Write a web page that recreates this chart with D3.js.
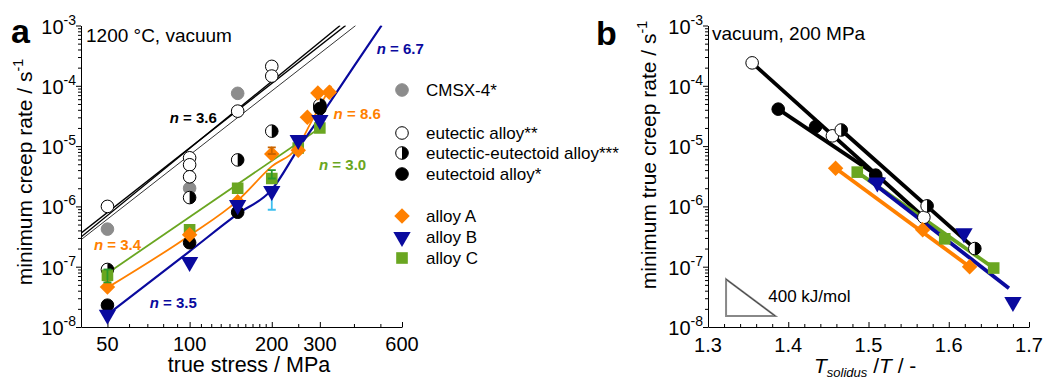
<!DOCTYPE html>
<html lang="en">
<head>
<meta charset="UTF-8" />
<title>Minimum creep rate</title>
<script src="https://d3js.org/d3.v7.min.js"></script>
<style>
  body { margin: 0; background: #fff; font-family: Arial, "Liberation Sans", sans-serif; }
  svg { display: block; }
  .axis path, .axis line { stroke: #000; stroke-width: 1px; }
</style>
</head>
<body>
<svg id="chart" width="1045" height="383"></svg>
<script>
// ---------- panel a: stress (MPa) vs minimum creep rate (1/s), 1200 °C
const cmsxStress = [50, 100, 150];
const cmsxRate   = [4.2e-7, 2.0e-6, 7.5e-5];
const eutStress  = [50, 100, 100, 100, 150, 200, 200, 300];
const eutRate    = [1.0e-6, 6.4e-6, 4.9e-6, 3.1e-6, 3.8e-5, 2.1e-4, 1.45e-4, 4.6e-5];
const halfStress = [50, 100, 150, 200, 300];
const halfRate   = [9.0e-8, 1.4e-6, 5.9e-6, 1.77e-5, 4.8e-5];
const eudStress  = [50, 100, 150, 300];
const eudRate    = [2.3e-8, 2.5e-7, 8.0e-7, 4.2e-5];
const aStress    = [50, 100, 150, 200, 250, 270, 295, 325];
const aRate      = [4.6e-8, 3.4e-7, 1.2e-6, 7.4e-6, 8.5e-6, 3.0e-5, 7.6e-5, 7.8e-5];
const bStress    = [50, 100, 150, 200, 250, 300];
const bRate      = [1.6e-8, 1.2e-7, 1.05e-6, 1.8e-6, 1.26e-5, 2.7e-5];
const cStress    = [50, 100, 150, 200, 250, 300];
const cRate      = [7.2e-8, 4.1e-7, 2.0e-6, 2.9e-6, 9.3e-6, 2.0e-5];

// error bars: [stress, low, high]
const errA = [[200, 7.4e-6, 9.5e-6]];
const errB = [[200, 8.8e-7, 1.8e-6]];
const errC = [[200, 2.9e-6, 4.0e-6], [50, 5.5e-8, 9.0e-8]];

// fit lines
const fitBlack = [[[40, 3.6e-7], [373, 1e-3]], [[40, 3.1e-7], [356, 1e-3]], [[40, 2.8e-7], [406, 1e-3]]];
const fitC = [[50, 7.8e-8], [300, 2.0e-5]];
const curveA = [[50, 4.5e-8], [100, 3.3e-7], [150, 1.25e-6], [200, 4.6e-6], [250, 1.0e-5], [280, 2.6e-5], [310, 6.0e-5], [330, 1.0e-4]];
const curveB = [[50, 1.6e-8], [100, 1.8e-7], [150, 7.5e-7], [200, 1.9e-6], [250, 9.0e-6], [300, 3.0e-5], [400, 2.1e-4], [505, 1.0e-3]];

const nLabelsA = [
  { n: "3.6", s: 84.5, r: 3.0e-5, color: "#000" },
  { n: "6.7", s: 485, r: 4.1e-4, color: "#0a0a9e" },
  { n: "8.6", s: 337, r: 3.5e-5, color: "#ff8000" },
  { n: "3.0", s: 298, r: 4.9e-6, color: "#6aa621" },
  { n: "3.4", s: 44.6, r: 2.3e-7, color: "#ff8000" },
  { n: "3.5", s: 71.4, r: 2.5e-8, color: "#0a0a9e" }
];

// ---------- panel b: T_solidus/T vs minimum true creep rate, 200 MPa
const tEut  = [1.355, 1.455, 1.569];  const rEut  = [2.4e-4, 1.48e-5, 6.6e-7];
const tHalf = [1.466, 1.573, 1.6325]; const rHalf = [1.85e-5, 1.02e-6, 2.0e-7];
const tEud  = [1.3875, 1.434, 1.509]; const rEud  = [4.1e-5, 2.1e-5, 3.3e-6];
const tA    = [1.459, 1.5675, 1.626]; const rA    = [4.3e-6, 4.1e-7, 1.0e-7];
const tB    = [1.511, 1.619, 1.68];   const rB    = [2.5e-6, 3.6e-7, 2.6e-8];
const tC    = [1.486, 1.595, 1.656];  const rC    = [3.7e-6, 2.9e-7, 9.5e-8];
const fitsB = [
  { pts: [[1.355, 2.4e-4], [1.569, 6.6e-7]], color: "#000" },
  { pts: [[1.3875, 4.1e-5], [1.52, 2.7e-6]], color: "#000" },
  { pts: [[1.466, 1.85e-5], [1.6325, 2.0e-7]], color: "#000" },
  { pts: [[1.459, 4.3e-6], [1.626, 1.0e-7]], color: "#ff8000" },
  { pts: [[1.486, 3.7e-6], [1.656, 9.5e-8]], color: "#6aa621" },
  { pts: [[1.50, 2.8e-6], [1.675, 4.4e-8]], color: "#0a0a9e" }
];
const slopeTri = [[1.3225, 6.2e-8], [1.3225, 1.52e-8], [1.3838, 1.52e-8]];

const xTicksA = [50, 100, 200, 300, 600];
const xTicksB = [1.3, 1.4, 1.5, 1.6, 1.7];
const yDecades = [-8, -7, -6, -5, -4, -3];

const legendA = [
  { key: "grey", label: "CMSX-4*" },
  { key: "open", label: "eutectic alloy**" },
  { key: "half", label: "eutectic-eutectoid alloy***" },
  { key: "black", label: "eutectoid alloy*" },
  { key: "A", label: "alloy A" },
  { key: "B", label: "alloy B" },
  { key: "C", label: "alloy C" }
];

// ---------- drawing
const ORANGE = "#ff8000", BLUE = "#0a0a9e", GREEN = "#6aa621";
const svg = d3.select("#chart");
const FONT = "Arial, 'Liberation Sans', sans-serif";

const yTop = 25.5, yBot = 327;
const xA = d3.scaleLog().domain([40, 600]).range([81, 402]);
const yA = d3.scaleLog().domain([1e-8, 1e-3]).range([yBot, yTop]);
const xB = d3.scaleLinear().domain([1.3, 1.7]).range([708, 1029]);
const yB = d3.scaleLog().domain([1e-8, 1e-3]).range([yBot, yTop]);

function marker(g, key, x, y) {
  if (key === "grey" || key === "open" || key === "black") {
    g.append("circle").attr("cx", x).attr("cy", y).attr("r", 6.3)
      .attr("fill", key === "grey" ? "#8c8c8c" : key === "open" ? "#fff" : "#000")
      .attr("stroke", key === "grey" ? "#8c8c8c" : "#000").attr("stroke-width", 1);
  } else if (key === "half") {
    g.append("circle").attr("cx", x).attr("cy", y).attr("r", 6.3)
      .attr("fill", "#fff").attr("stroke", "#000").attr("stroke-width", 1);
    g.append("path").attr("transform", `translate(${x},${y})`)
      .attr("d", "M0,-6.3A6.3,6.3 0 0 1 0,6.3Z").attr("fill", "#000");
  } else if (key === "A") {
    g.append("path").attr("transform", `translate(${x},${y}) rotate(45)`)
      .attr("d", d3.symbol(d3.symbolSquare, 120)()).attr("fill", ORANGE);
  } else if (key === "B") {
    g.append("path").attr("transform", `translate(${x},${y}) rotate(180)`)
      .attr("d", d3.symbol(d3.symbolTriangle, 130)()).attr("fill", BLUE);
  } else if (key === "C") {
    g.append("path").attr("transform", `translate(${x},${y})`)
      .attr("d", d3.symbol(d3.symbolSquare, 135)()).attr("fill", GREEN);
  }
}

function sup(sel, base, exp, size) {
  sel.append("tspan").text(base);
  sel.append("tspan").attr("font-size", size * 0.68).attr("dy", -size * 0.42).text(exp);
}

function yAxisLog(g, x, y) {
  // minor ticks
  const minors = [];
  yDecades.slice(0, -1).forEach(d => { for (let m = 2; m <= 9; m++) minors.push(m * Math.pow(10, d)); });
  g.append("g").attr("class", "axis").attr("transform", `translate(${x.range()[0]},0)`)
    .call(d3.axisLeft(y).tickValues(minors).tickSize(3).tickFormat(""))
    .call(a => a.select(".domain").remove());
  g.append("g").attr("class", "axis").attr("transform", `translate(${x.range()[0]},0)`)
    .call(d3.axisLeft(y).tickValues(yDecades.map(d => Math.pow(10, d))).tickSizeInner(5).tickSizeOuter(0).tickFormat(""));
  yDecades.forEach(d => {
    const t = g.append("text").attr("x", x.range()[0] - 5).attr("y", y(Math.pow(10, d)) + 8)
      .attr("text-anchor", "end").attr("font-size", 20).attr("font-family", FONT);
    t.append("tspan").text("10");
    t.append("tspan").attr("font-size", 14).attr("dy", -9).text("-" + (-d));
  });
}

// ----- panel a
const ga = svg.append("g");
yAxisLog(ga, xA, yA);
const xMinorA = [60, 70, 80, 90, 110, 120, 130, 140, 150, 160, 170, 180, 190, 250, 400, 500];
ga.append("g").attr("class", "axis").attr("transform", `translate(0,${yBot})`)
  .call(d3.axisBottom(xA).tickValues(xMinorA).tickSize(-3).tickFormat(""))
  .call(a => a.select(".domain").remove());
ga.append("g").attr("class", "axis").attr("transform", `translate(0,${yBot})`)
  .call(d3.axisBottom(xA).tickValues(xTicksA).tickSizeInner(-5).tickSizeOuter(0).tickFormat(""));
xTicksA.forEach(v => ga.append("text").attr("x", xA(v)).attr("y", 351).attr("text-anchor", "middle")
  .attr("font-size", 20).attr("font-family", FONT).text(v));

ga.append("text").attr("x", 249).attr("y", 372).attr("text-anchor", "middle")
  .attr("font-size", 21.5).attr("font-family", FONT).text("true stress / MPa");
const ylabA = ga.append("text").attr("transform", "translate(32,172) rotate(-90)")
  .attr("text-anchor", "middle").attr("font-size", 21).attr("font-family", FONT);
sup(ylabA, "minimum creep rate / s", "-1", 21);

ga.append("text").attr("x", 11).attr("y", 43).attr("font-size", 34).attr("font-weight", "bold")
  .attr("font-family", FONT).text("a");
ga.append("text").attr("x", 86).attr("y", 42).attr("font-size", 19).attr("font-family", FONT)
  .text("1200 °C, vacuum");

svg.append("clipPath").attr("id", "clipA").append("rect")
  .attr("x", xA.range()[0]).attr("y", yTop).attr("width", xA.range()[1] - xA.range()[0] + 60).attr("height", yBot - yTop);
const plotA = ga.append("g").attr("clip-path", "url(#clipA)");
const lineA = d3.line().x(d => xA(d[0])).y(d => yA(d[1]));
const curveLineA = d3.line().x(d => xA(d[0])).y(d => yA(d[1])).curve(d3.curveMonotoneX);

fitBlack.forEach((f, i) => plotA.append("path").attr("d", lineA(f)).attr("fill", "none")
  .attr("stroke", "#000").attr("stroke-width", i === 2 ? 0.8 : 1.4));
plotA.append("path").attr("d", lineA(fitC)).attr("fill", "none").attr("stroke", GREEN).attr("stroke-width", 1.8);
plotA.append("path").attr("d", curveLineA(curveA)).attr("fill", "none").attr("stroke", ORANGE).attr("stroke-width", 1.8);
plotA.append("path").attr("d", curveLineA(curveB)).attr("fill", "none").attr("stroke", BLUE).attr("stroke-width", 2.2);

function errBars(g, list, color, xs, ys) {
  list.forEach(([s, lo, hi]) => {
    const x = xs(s);
    g.append("line").attr("x1", x).attr("x2", x).attr("y1", ys(lo)).attr("y2", ys(hi)).attr("stroke", color).attr("stroke-width", 1.8);
    [lo, hi].forEach(v => g.append("line").attr("x1", x - 4).attr("x2", x + 4).attr("y1", ys(v)).attr("y2", ys(v))
      .attr("stroke", color).attr("stroke-width", 1.8));
  });
}
errBars(plotA, errB, "#3cbfef", xA, yA);

const seriesA = [
  ["grey", cmsxStress, cmsxRate], ["open", eutStress, eutRate], ["half", halfStress, halfRate],
  ["black", eudStress, eudRate], ["C", cStress, cRate], ["A", aStress, aRate], ["B", bStress, bRate]
];
seriesA.forEach(([key, xs, rs]) => xs.forEach((s, i) => marker(plotA, key, xA(s), yA(rs[i]))));
errBars(plotA, errA, "#c86400", xA, yA);
errBars(plotA, errC, "#2a9a2a", xA, yA);

nLabelsA.forEach(l => {
  const t = ga.append("text").attr("x", xA(l.s)).attr("y", yA(l.r)).attr("dy", "0.35em")
    .attr("font-size", 15).attr("font-weight", "bold").attr("font-family", FONT).attr("fill", l.color);
  t.append("tspan").attr("font-style", "italic").text("n");
  t.append("tspan").text(" = " + l.n);
});

// legend
const legY = [90, 133, 153, 174, 216, 237, 258];
legendA.forEach((l, i) => {
  marker(ga, l.key, 402, legY[i]);
  ga.append("text").attr("x", 426).attr("y", legY[i]).attr("dy", "0.36em").attr("font-size", 17)
    .attr("font-family", FONT).text(l.label);
});

// ----- panel b
const gb = svg.append("g");
yAxisLog(gb, xB, yB);
const xMinorB = d3.range(1.32, 1.7, 0.02).filter(v => Math.abs(v * 10 - Math.round(v * 10)) > 0.01);
gb.append("g").attr("class", "axis").attr("transform", `translate(0,${yBot})`)
  .call(d3.axisBottom(xB).tickValues(xMinorB).tickSize(-3).tickFormat(""))
  .call(a => a.select(".domain").remove());
gb.append("g").attr("class", "axis").attr("transform", `translate(0,${yBot})`)
  .call(d3.axisBottom(xB).tickValues(xTicksB).tickSizeInner(-5).tickSizeOuter(0).tickFormat(""));
xTicksB.forEach(v => gb.append("text").attr("x", xB(v)).attr("y", 352).attr("text-anchor", "middle")
  .attr("font-size", 20).attr("font-family", FONT).text(v.toFixed(1)));

const xlabB = gb.append("text").attr("x", 814).attr("y", 373).attr("font-size", 21).attr("font-family", FONT);
xlabB.append("tspan").attr("font-style", "italic").text("T");
xlabB.append("tspan").attr("font-style", "italic").attr("font-size", 13).attr("dy", 4).text("solidus");
xlabB.append("tspan").attr("dy", -4).text(" /");
xlabB.append("tspan").attr("font-style", "italic").text("T");
xlabB.append("tspan").text(" / -");

const ylabB = gb.append("text").attr("transform", "translate(656,155) rotate(-90)")
  .attr("text-anchor", "middle").attr("font-size", 21).attr("font-family", FONT);
sup(ylabB, "minimum true creep rate / s", "-1", 21);

gb.append("text").attr("x", 596).attr("y", 45).attr("font-size", 34).attr("font-weight", "bold")
  .attr("font-family", FONT).text("b");
gb.append("text").attr("x", 712).attr("y", 40).attr("font-size", 19).attr("font-family", FONT)
  .text("vacuum, 200 MPa");

const lineB = d3.line().x(d => xB(d[0])).y(d => yB(d[1]));
gb.append("path").attr("d", lineB(slopeTri) + "Z").attr("fill", "none").attr("stroke", "#888").attr("stroke-width", 2);
gb.append("path").attr("d", lineB([slopeTri[0], slopeTri[2]])).attr("stroke", "#333").attr("stroke-width", 0.8);
gb.append("text").attr("x", xB(1.3838) - 7).attr("y", yB(3.2e-8)).attr("dy", "0.35em").attr("font-size", 17)
  .attr("font-family", FONT).text("400 kJ/mol");

fitsB.forEach(f => gb.append("path").attr("d", lineB(f.pts)).attr("fill", "none")
  .attr("stroke", f.color).attr("stroke-width", 3.8));
const seriesB = [
  ["open", tEut, rEut], ["black", tEud, rEud], ["half", tHalf, rHalf],
  ["A", tA, rA], ["C", tC, rC], ["B", tB, rB]
];
seriesB.forEach(([key, xs, rs]) => xs.forEach((t, i) => marker(gb, key, xB(t), yB(rs[i]))));
</script>
</body>
</html>
